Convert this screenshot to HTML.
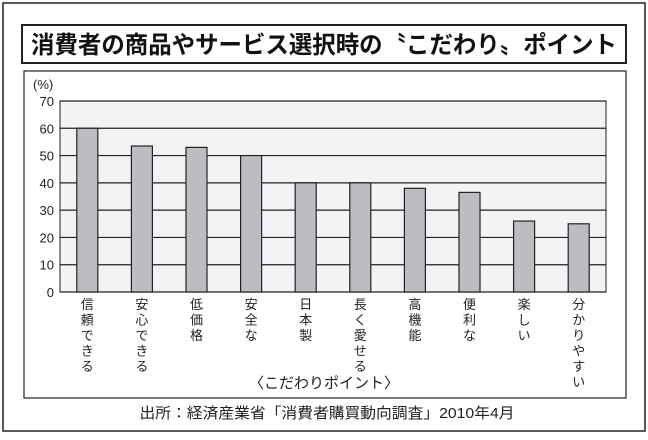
<!DOCTYPE html>
<html><head><meta charset="utf-8"><style>
body{margin:0;width:648px;height:435px;background:#fff;font-family:"Liberation Sans","Noto Sans CJK JP",sans-serif;}
</style></head><body>
<svg width="648" height="435" xmlns="http://www.w3.org/2000/svg" font-family="Liberation Sans, Noto Sans CJK JP, sans-serif">
<rect x="3" y="3" width="642" height="428" fill="#fff" stroke="#222" stroke-width="1.5"/>
<rect x="22" y="25" width="604" height="38" fill="#fff" stroke="#222" stroke-width="2"/>
<text x="324" y="53" text-anchor="middle" font-size="24" font-weight="bold" fill="#111" textLength="586" lengthAdjust="spacingAndGlyphs">消費者の商品やサービス選択時の〝こだわり〟ポイント</text>
<rect x="24" y="71" width="602" height="327" fill="#fff" stroke="#222" stroke-width="1.2"/>
<text x="33" y="89" font-size="13" fill="#222">(%)</text>
<g id="plot"></g>
<text x="324" y="388" text-anchor="middle" font-size="15" fill="#222">〈こだわりポイント〉</text>
<text x="327" y="418" text-anchor="middle" font-size="15" fill="#222" textLength="375" lengthAdjust="spacingAndGlyphs">出所：経済産業省「消費者購買動向調査」2010年4月</text>
</svg>
<script>
const categories=["信頼できる","安心できる","低価格","安全な","日本製","長く愛せる","高機能","便利な","楽しい","分かりやすい"];
const values=[60,53.5,53,50,40,40,38,36.5,26,25];
const yTicks=[0,10,20,30,40,50,60,70];
const NS="http://www.w3.org/2000/svg";
const g=document.getElementById('plot');
const x0=60,x1=606,yTop=101,yBot=292,yMax=70;
const y=v=>yBot-(v/yMax)*(yBot-yTop);
const step=(x1-x0)/categories.length;
const xc=i=>x0+step*(i+0.5);
function mk(t,a){const e=document.createElementNS(NS,t);for(const k in a)e.setAttribute(k,a[k]);g.appendChild(e);return e;}
const bg=mk('rect',{x:x0,y:yTop,width:x1-x0,height:yBot-yTop,fill:'#f2f3f5',stroke:'#222','stroke-width':1});


yTicks.forEach(t=>{
 const l=mk('line',{x1:x0,x2:x1,y1:y(t),y2:y(t),stroke:'#222','stroke-width':1.2});
 
 
 const tx=mk('text',{x:x0-6,y:y(t)+5,'text-anchor':'end','font-size':13,fill:'#222'});
 tx.textContent=t;
 
 
});
values.forEach((v,i)=>{
 const r=mk('rect',{x:xc(i)-10.5,y:y(v),width:21,height:yBot-y(v),fill:'#bcbdc0',stroke:'#222','stroke-width':1.2});
 
 
 const t=mk('text',{x:xc(i),'font-size':13,fill:'#222','text-anchor':'middle'});
 
 
 [...categories[i]].forEach((c,j)=>{
  const s=document.createElementNS(NS,'tspan');
  s.setAttribute('x',xc(i));s.setAttribute('y',309+j*15.5);s.textContent=c;t.appendChild(s);
 });
});
</script>
</body></html>
